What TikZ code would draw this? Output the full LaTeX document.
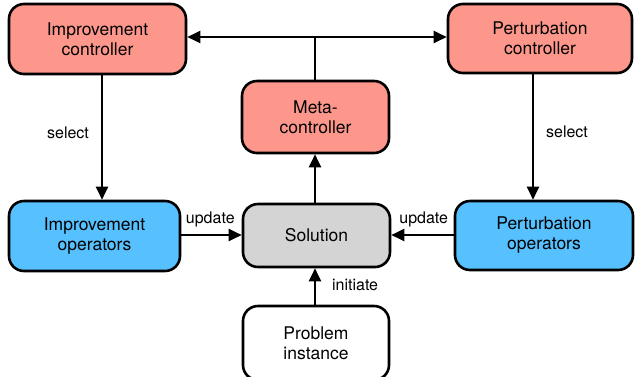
\documentclass[tikz,border=0pt]{standalone}
\usepackage{fontspec}
\setmainfont{TeX Gyre Heros}
\usetikzlibrary{arrows.meta}
\definecolor{ctrlred}{RGB}{253,151,140}
\definecolor{opblue}{RGB}{86,193,254}
\definecolor{solgray}{RGB}{212,212,212}
\tikzset{
  box/.style={draw=black, line width=2.6pt, rounded corners=15pt, align=center,
    font=\fontsize{17.5}{20}\selectfont, inner sep=0pt},
  ctrl/.style={box, fill=ctrlred},
  oper/.style={box, fill=opblue},
  arr/.style={line width=2.2pt, -{Triangle[length=13pt,width=12pt]}},
  biarr/.style={line width=2.2pt, {Triangle[length=13pt,width=12pt]}-{Triangle[length=13pt,width=12pt]}},
  lbl/.style={font=\fontsize{16}{18}\selectfont, inner sep=0pt}
}
\begin{document}
\begin{tikzpicture}[x=1pt,y=-1pt]
\useasboundingbox (0,0) rectangle (640,376);
% controllers
\node[ctrl, minimum width=177pt, minimum height=70pt] (ic) at (97.5,39) {Improvement\\controller};
\node[ctrl, minimum width=184pt, minimum height=69pt] (pc) at (540,38.5) {Perturbation\\controller};
\node[ctrl, minimum width=147pt, minimum height=72pt] (mc) at (315.5,117) {Meta-\\controller};
% operators and solution
\node[oper, minimum width=171pt, minimum height=70pt] (io) at (94.5,236) {Improvement\\operators};
\node[box, fill=solgray, minimum width=147pt, minimum height=63pt] (sol) at (316.5,235.5) {Solution};
\node[oper, minimum width=178pt, minimum height=69pt] (po) at (544,235.5) {Perturbation\\operators};
\node[box, fill=white, minimum width=146pt, minimum height=74pt] (pi) at (316,343) {Problem\\instance};
% meta-controller feeds both controllers
\coordinate (top) at (315,37);
\draw[line width=2.2pt] (mc.north -| top) -- (top);
\draw[biarr] (ic.east |- top) -- (pc.west |- top);
% controllers select operators
\draw[arr] ([xshift=4.5pt]ic.south) -- node[lbl, pos=0.46, left=12pt] {select} ([xshift=7.5pt]io.north);
\draw[arr] ([xshift=-7pt]pc.south) -- node[lbl, pos=0.46, right=12pt] {select} ([xshift=-11pt]po.north);
% operators update the solution
\draw[arr] (io.east |- 0,235) -- node[lbl, above=7pt, pos=0.48] {update} (sol.west |- 0,235);
\draw[arr] (po.west |- 0,235) -- node[lbl, above=7pt, pos=0.48] {update} (sol.east |- 0,235);
% solution informs the meta-controller
\draw[arr] (sol.north -| top) -- (mc.south -| top);
% problem instance initiates the solution
\draw[arr] (pi.north -| top) -- node[lbl, right=16pt, pos=0.55] {initiate} (sol.south -| top);
\end{tikzpicture}
\end{document}
